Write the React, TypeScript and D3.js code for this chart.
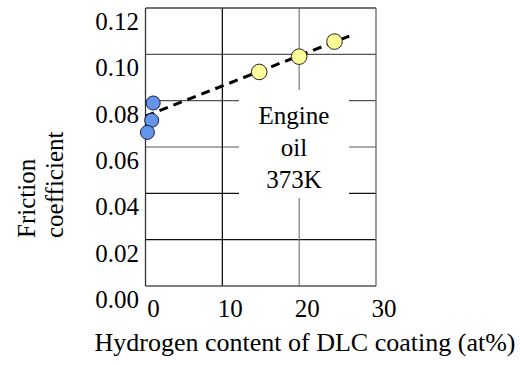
import React from 'react'
import * as d3 from 'd3'

// DLC coatings, engine oil at 373K
const lowH = [
  { h: 1.0, mu: 0.079 },
  { h: 0.8, mu: 0.0715 },
  { h: 0.25, mu: 0.0663 },
]
const highH = [
  { h: 14.8, mu: 0.0924 },
  { h: 20.0, mu: 0.099 },
  { h: 24.6, mu: 0.1055 },
]
const trend = [
  { h: 0, mu: 0.0733 },
  { h: 26.6, mu: 0.108 },
]
const xTicks = [0, 10, 20, 30]
const yTicks = [0, 0.02, 0.04, 0.06, 0.08, 0.1, 0.12]
const noteLines = ['Engine', 'oil', '373K']

const W = 520
const H = 365
const txt: React.CSSProperties = { fontFamily: 'Liberation Serif, serif', fontSize: '25px' }

export default function App() {
  const x = d3.scaleLinear().domain([0, 30]).range([145.5, 376])
  const y = d3.scaleLinear().domain([0, 0.12]).range([286, 8])

  const line = d3
    .line<{ h: number; mu: number }>()
    .x(d => x(d.h))
    .y(d => y(d.mu))

  // box behind the note hides part of the grid
  const box = { x0: 239, x1: 349, y0: 90, y1: 198 }

  return (
    <svg
      width={W}
      height={H}
      style={{ position: 'absolute', left: 0, top: 0, background: '#fff' }}
    >
      {/* grid */}
      {yTicks.slice(1, -1).map(t => (
        <line
          key={'gy' + t}
          x1={x(0)}
          x2={x(30)}
          y1={y(t)}
          y2={y(t)}
          stroke={t <= 0.04 ? '#111' : '#555'}
          strokeWidth={1.2}
        />
      ))}
      {xTicks.slice(1, -1).map(t => (
        <line
          key={'gx' + t}
          x1={x(t)}
          x2={x(t)}
          y1={y(0.12)}
          y2={y(0)}
          stroke={t === 10 ? '#000' : '#777'}
          strokeWidth={1.2}
        />
      ))}
      <rect
        x={box.x0}
        y={box.y0}
        width={box.x1 - box.x0}
        height={box.y1 - box.y0}
        fill="#fff"
      />
      {/* frame */}
      <line x1={x(0)} x2={x(30)} y1={y(0.12)} y2={y(0.12)} stroke="#444" strokeWidth={1.3} />
      <line x1={x(30)} x2={x(30)} y1={y(0.12)} y2={y(0)} stroke="#666" strokeWidth={1.3} />
      <line x1={x(0)} x2={x(30)} y1={y(0)} y2={y(0)} stroke="#555" strokeWidth={1.3} />
      <line x1={x(0)} x2={x(0)} y1={y(0.12)} y2={y(0)} stroke="#333" strokeWidth={1.3} />

      {/* tick labels */}
      {yTicks.map(t => (
        <text key={'ty' + t} x={139} y={y(t) + 22} textAnchor="end" style={txt}>
          {d3.format('.2f')(t)}
        </text>
      ))}
      {xTicks.map(t => (
        <text key={'tx' + t} x={x(t) + 8} y={317} textAnchor="middle" style={txt}>
          {t}
        </text>
      ))}

      {/* trend line */}
      <path
        d={line(trend) ?? ''}
        fill="none"
        stroke="#000"
        strokeWidth={3}
        strokeDasharray="9,6"
      />

      {lowH.map((d, i) => (
        <circle
          key={'l' + i}
          cx={x(d.h)}
          cy={y(d.mu)}
          r={7}
          fill="#6495ed"
          stroke="#1a1a40"
          strokeWidth={1}
        />
      ))}
      {highH.map((d, i) => (
        <circle
          key={'h' + i}
          cx={x(d.h)}
          cy={y(d.mu)}
          r={7.8}
          fill="#ffff99"
          stroke="#222"
          strokeWidth={1}
        />
      ))}

      {/* note */}
      {noteLines.map((s, i) => (
        <text key={s} x={294} y={124 + i * 32} textAnchor="middle" style={txt}>
          {s}
        </text>
      ))}

      {/* axis titles */}
      <text transform="translate(35,238) rotate(-90)" style={txt}>
        Friction
      </text>
      <text transform="translate(63,238) rotate(-90)" style={txt}>
        coefficient
      </text>
      <text x={305} y={351} textAnchor="middle" style={{ ...txt, fontSize: '26px' }}>
        Hydrogen content of DLC coating (at%)
      </text>
    </svg>
  )
}
